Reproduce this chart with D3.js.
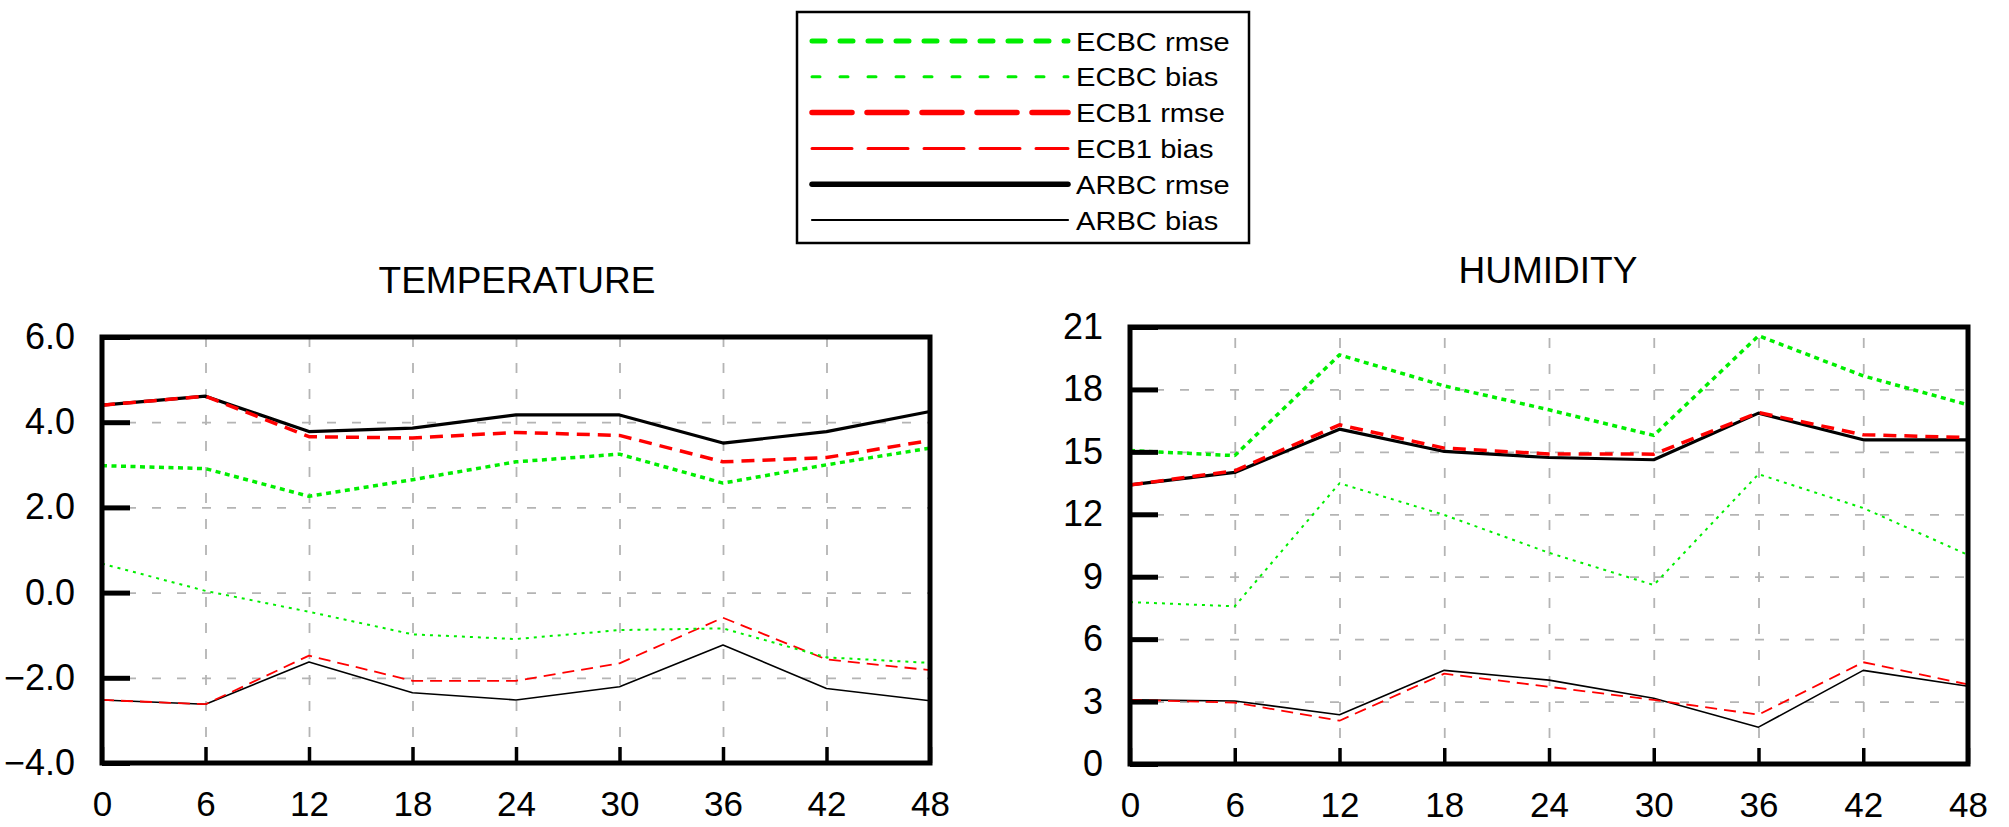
<!DOCTYPE html>
<html>
<head>
<meta charset="utf-8">
<script src="https://cdn.jsdelivr.net/npm/d3@7"></script>
<style>
  body { margin: 0; background: #fff; }
  text { font-family: "Liberation Sans", Arial, Helvetica, sans-serif; fill: #000; }
</style>
</head>
<body>
<script>
// forecast hours on the x axis
var hours = [0, 6, 12, 18, 24, 30, 36, 42, 48];

// TEMPERATURE panel
var tempTicks = [-4, -2, 0, 2, 4, 6];
var tempECBCrmse = [2.98, 2.91, 2.26, 2.65, 3.07, 3.25, 2.57, 3.00, 3.39];
var tempECBCbias = [0.68, 0.04, -0.45, -0.98, -1.09, -0.88, -0.84, -1.52, -1.65];
var tempECB1rmse = [4.40, 4.61, 3.66, 3.63, 3.76, 3.69, 3.07, 3.17, 3.57];
var tempECB1bias = [-2.52, -2.62, -1.48, -2.07, -2.07, -1.66, -0.59, -1.57, -1.82];
var tempARBCrmse = [4.40, 4.61, 3.78, 3.86, 4.17, 4.17, 3.51, 3.78, 4.25];
var tempARBCbias = [-2.52, -2.62, -1.63, -2.35, -2.52, -2.21, -1.23, -2.25, -2.54];

// HUMIDITY panel
var humTicks = [0, 3, 6, 9, 12, 15, 18, 21];
var humECBCrmse = [15.06, 14.82, 19.66, 18.17, 17.02, 15.79, 20.58, 18.65, 17.26];
var humECBCbias = [7.78, 7.58, 13.49, 11.97, 10.15, 8.60, 13.93, 12.30, 10.05];
var humECB1rmse = [13.41, 14.09, 16.30, 15.18, 14.90, 14.89, 16.89, 15.82, 15.69];
var humECB1bias = [3.08, 2.95, 2.08, 4.34, 3.71, 3.08, 2.37, 4.89, 3.82];
var humARBCrmse = [13.41, 14.01, 16.09, 15.02, 14.73, 14.62, 16.86, 15.58, 15.58];
var humARBCbias = [3.08, 3.03, 2.37, 4.50, 4.03, 3.16, 1.77, 4.50, 3.74];

var seriesNames = ["ECBC rmse", "ECBC bias", "ECB1 rmse", "ECB1 bias", "ARBC rmse", "ARBC bias"];

// line styles: chart and legend versions
var styles = {
  "ECBC rmse": { color: "#00ee00", width: 3.5, dash: "5,4.5", lwidth: 5, ldash: "13,15" },
  "ECBC bias": { color: "#00ee00", width: 2,   dash: "3,5",   lwidth: 3, ldash: "8,20" },
  "ECB1 rmse": { color: "#ff0000", width: 3.5, dash: "13,8",  lwidth: 5.5, ldash: "40,15" },
  "ECB1 bias": { color: "#ff0000", width: 1.8, dash: "12,7",  lwidth: 3, ldash: "40,16" },
  "ARBC rmse": { color: "#000000", width: 3.2, dash: null,    lwidth: 5.5, ldash: null },
  "ARBC bias": { color: "#000000", width: 1.6, dash: null,    lwidth: 2.2, ldash: null }
};

var svg = d3.select("body").append("svg")
  .attr("width", 2009)
  .attr("height", 827);

function drawPanel(p) {
  var x = d3.scaleLinear().domain([0, 48]).range([p.left, p.right]);
  var y = d3.scaleLinear().domain(p.domain).range([p.bottom, p.top]);
  var w = p.right - p.left, h = p.bottom - p.top;

  var g = svg.append("g");

  // grid
  g.append("g")
    .attr("transform", "translate(0," + p.bottom + ")")
    .call(d3.axisBottom(x).tickValues(hours.slice(1, -1)).tickSize(-h).tickFormat(""))
    .call(function(s) { s.select(".domain").remove(); })
    .selectAll("line")
    .attr("stroke", "#b4b4b4").attr("stroke-width", 1.8).attr("stroke-dasharray", "10,16");

  g.append("g")
    .attr("transform", "translate(" + p.left + ",0)")
    .call(d3.axisLeft(y).tickValues(p.ticks.slice(1, -1)).tickSize(-w).tickFormat(""))
    .call(function(s) { s.select(".domain").remove(); })
    .selectAll("line")
    .attr("stroke", "#b4b4b4").attr("stroke-width", 1.8).attr("stroke-dasharray", "9,16");

  // series lines, black first so the coloured ones sit on top
  var line = d3.line().x(function(d, i) { return x(hours[i]); }).y(function(d) { return y(d); });
  var order = ["ARBC bias", "ARBC rmse", "ECB1 bias", "ECB1 rmse", "ECBC bias", "ECBC rmse"];
  order.forEach(function(name) {
    var st = styles[name];
    g.append("path")
      .datum(p.series[name])
      .attr("d", line)
      .attr("fill", "none")
      .attr("stroke", st.color)
      .attr("stroke-width", st.width)
      .attr("stroke-dasharray", st.dash)
      .attr("stroke-linejoin", "round");
  });

  // y axis: thick inward ticks
  var ya = g.append("g")
    .attr("transform", "translate(" + p.left + ",0)")
    .call(d3.axisLeft(y).tickValues(p.ticks).tickSize(-28).tickPadding(27).tickFormat(p.fmt));
  ya.select(".domain").remove();
  ya.selectAll("line").attr("stroke", "#000").attr("stroke-width", 5);
  ya.selectAll("text").style("font-size", "36px").attr("fill", "#000")
    .style("font-family", "'Liberation Sans', Arial, sans-serif");

  // x axis: short inward ticks
  var xa = g.append("g")
    .attr("transform", "translate(0," + p.bottom + ")")
    .call(d3.axisBottom(x).tickValues(hours).tickSize(-16).tickPadding(28));
  xa.select(".domain").remove();
  xa.selectAll("line").attr("stroke", "#000").attr("stroke-width", 3.5);
  xa.selectAll("text").style("font-size", "35px").attr("fill", "#000")
    .style("font-family", "'Liberation Sans', Arial, sans-serif");

  // frame
  g.append("rect")
    .attr("x", p.left).attr("y", p.top)
    .attr("width", w).attr("height", h)
    .attr("fill", "none").attr("stroke", "#000").attr("stroke-width", 5);

  // title
  g.append("text")
    .attr("x", p.titleX).attr("y", p.titleY)
    .attr("text-anchor", "middle")
    .style("font-size", "37px")
    .text(p.title);
}

drawPanel({
  title: "TEMPERATURE", titleX: 517, titleY: 293,
  left: 102, right: 930, top: 337, bottom: 763,
  domain: [-4, 6], ticks: tempTicks, fmt: d3.format(".1f"),
  series: {
    "ECBC rmse": tempECBCrmse, "ECBC bias": tempECBCbias,
    "ECB1 rmse": tempECB1rmse, "ECB1 bias": tempECB1bias,
    "ARBC rmse": tempARBCrmse, "ARBC bias": tempARBCbias
  }
});

drawPanel({
  title: "HUMIDITY", titleX: 1548, titleY: 283,
  left: 1130, right: 1968, top: 327, bottom: 764,
  domain: [0, 21], ticks: humTicks, fmt: d3.format("d"),
  series: {
    "ECBC rmse": humECBCrmse, "ECBC bias": humECBCbias,
    "ECB1 rmse": humECB1rmse, "ECB1 bias": humECB1bias,
    "ARBC rmse": humARBCrmse, "ARBC bias": humARBCbias
  }
});

// legend
var legend = svg.append("g");
legend.append("rect")
  .attr("x", 797).attr("y", 12).attr("width", 452).attr("height", 231)
  .attr("fill", "#fff").attr("stroke", "#000").attr("stroke-width", 2.5);

var ly = d3.scalePoint().domain(seriesNames).range([41, 220]);
seriesNames.forEach(function(name) {
  var st = styles[name];
  legend.append("line")
    .attr("x1", 812).attr("x2", 1068)
    .attr("y1", ly(name)).attr("y2", ly(name))
    .attr("stroke", st.color)
    .attr("stroke-width", st.lwidth)
    .attr("stroke-dasharray", st.ldash)
    .attr("stroke-linecap", "round");
  legend.append("text")
    .attr("transform", "translate(1076," + (ly(name) + 9.5) + ") scale(1.12,1)")
    .style("font-size", "26px")
    .text(name);
});
</script>
</body>
</html>
